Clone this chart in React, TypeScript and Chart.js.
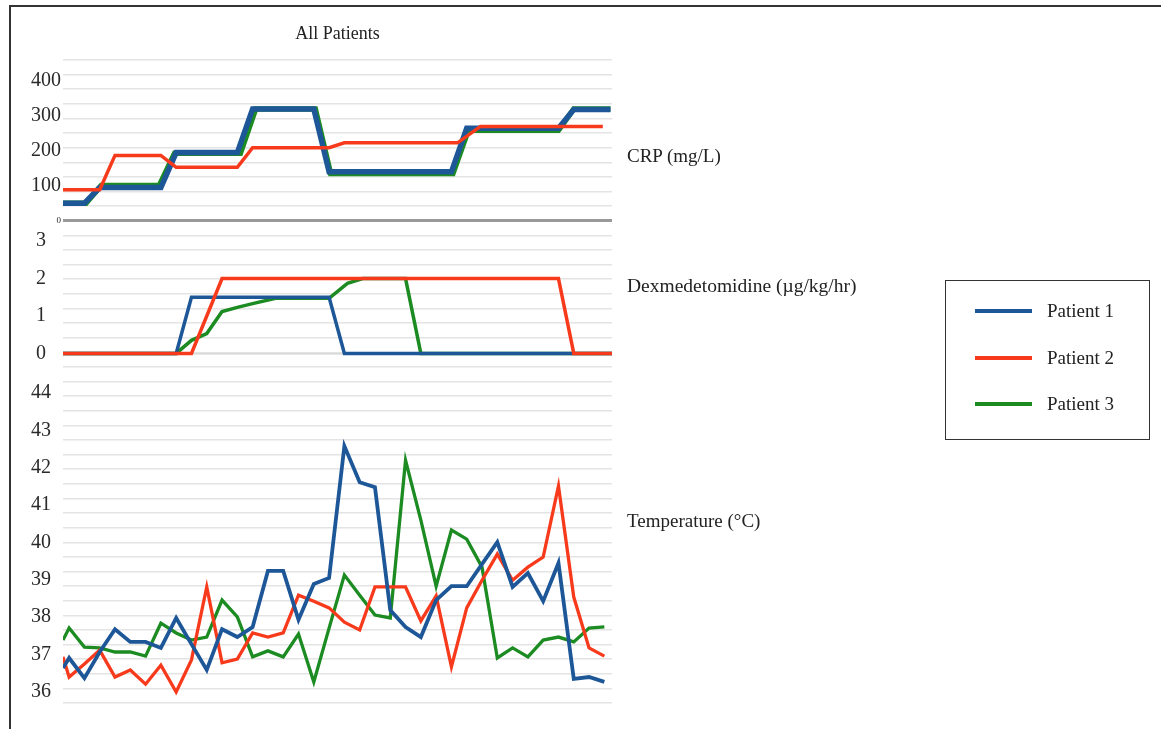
import React, { useEffect, useRef } from 'react';
import { Chart, registerables } from 'chart.js';

Chart.register(...registerables);

const FONT = "'Liberation Serif', 'Times New Roman', serif";
const BLUE = '#1d5798';
const RED = '#f83a1c';
const GREEN = '#1b8b22';
const GRID = '#e4e4e4';

const seriesNames = ['Patient 1', 'Patient 2', 'Patient 3'];
const panelTitles = ['CRP (mg/L)', 'Dexmedetomidine (µg/kg/hr)', 'Temperature (°C)'];

// CRP (mg/L)
const crpX1 = [-0.4, 1, 2, 6, 7, 11, 12, 16, 17, 25, 26, 32, 33, 35.4];
const crpP1 = [50, 50, 95, 95, 195, 195, 320, 320, 140, 140, 265, 265, 318, 318];
const crpX2 = [-0.4, 2, 3, 6, 7, 11, 12, 17, 18, 25.4, 26.9, 34.9];
const crpP2 = [89, 89, 187, 187, 153, 153, 209, 209, 223, 223, 270, 270];
const crpX3 = [-0.4, 1.1, 2.1, 5.9, 6.9, 11.2, 12.2, 16.1, 17.1, 25.1, 26.1, 32, 33, 35.4];
const crpP3 = [50, 50, 101, 101, 193, 193, 320, 320, 135, 135, 259, 259, 320, 320];

// Dexmedetomidine (µg/kg/hr)
const dexX1 = [-0.4, 7, 8, 17, 18, 35.5];
const dexP1 = [0, 0, 1.5, 1.5, 0, 0];
const dexX2 = [-0.4, 8, 10, 32, 33, 35.5];
const dexP2 = [0, 0, 2, 2, 0, 0];
const dexX3 = [-0.4, 7, 8, 9, 10, 11, 12, 13.5, 17, 18.2, 19.2, 22, 23, 35.5];
const dexP3 = [0, 0, 0.35, 0.53, 1.12, 1.23, 1.33, 1.47, 1.47, 1.87, 2, 2, 0, 0];

// Temperature (°C)
const tempX = [-0.4, 0, 1, 2, 3, 4, 5, 6, 7, 8, 9, 10, 11, 12, 13, 14, 15, 16, 17, 18, 19, 20, 21, 22, 23, 24, 25, 26, 27, 28, 29, 30, 31, 32, 33, 34, 35];
const tempP1 = [36.64, 36.91, 36.37, 37.07, 37.68, 37.34, 37.34, 37.18, 37.98, 37.28, 36.59, 37.68, 37.47, 37.74, 39.24, 39.24, 37.93, 38.89, 39.05, 42.58, 41.61, 41.48, 38.19, 37.74, 37.47, 38.46, 38.83, 38.83, 39.42, 40.01, 38.81, 39.18, 38.43, 39.45, 36.35, 36.40, 36.27];
const tempP2 = [36.94, 36.40, 36.75, 37.12, 36.40, 36.59, 36.21, 36.72, 36.00, 36.86, 38.81, 36.78, 36.88, 37.58, 37.47, 37.58, 38.59, 38.43, 38.25, 37.87, 37.66, 38.81, 38.81, 38.81, 37.90, 38.57, 36.67, 38.25, 38.99, 39.69, 38.99, 39.34, 39.61, 41.51, 38.54, 37.18, 36.96];
const tempP3 = [37.39, 37.71, 37.20, 37.18, 37.07, 37.07, 36.96, 37.84, 37.58, 37.39, 37.47, 38.46, 38.01, 36.94, 37.10, 36.94, 37.55, 36.27, 37.71, 39.13, 38.59, 38.06, 37.98, 42.20, 40.60, 38.83, 40.33, 40.09, 39.34, 36.91, 37.18, 36.94, 37.39, 37.47, 37.34, 37.71, 37.74];

// Axis tick labels
const crpTicks = [0, 100, 200, 300, 400];
const dexTicks = [0, 1, 2, 3];
const tempTicks = [36, 37, 38, 39, 40, 41, 42, 43, 44];

const pts = (xs: number[], ys: number[]) => xs.map((x, i) => ({ x, y: ys[i] }));

function panelAxis(opts: {
  min: number; max: number; nGrid: number; labels: number[]; weight: number;
  padding: number; zero?: { color: string; width: number }; smallZero?: boolean; skipTop?: boolean;
}) {
  const gridVals: number[] = [];
  const last = opts.skipTop ? opts.nGrid - 1 : opts.nGrid;
  for (let k = 0; k <= last; k++) gridVals.push(opts.min + ((opts.max - opts.min) * k) / opts.nGrid);
  const gridSet = new Set(gridVals);
  const labelSet = new Set(opts.labels);
  const all = Array.from(new Set([...gridVals, ...opts.labels])).sort((a, b) => a - b);
  return {
    type: 'linear' as const,
    position: 'left' as const,
    stack: 'panels',
    stackWeight: opts.nGrid,
    weight: opts.weight,
    min: opts.min,
    max: opts.max,
    afterBuildTicks: (scale: any) => {
      scale.ticks = all.map((v) => ({ value: v }));
    },
    afterFit: (scale: any) => {
      scale.width = 53;
      scale.paddingTop = 0;
      scale.paddingBottom = 0;
    },
    border: { display: false },
    grid: {
      drawTicks: false,
      color: (ctx: any) => {
        const v = ctx.tick ? ctx.tick.value : NaN;
        if (opts.zero && v === 0) return opts.zero.color;
        return gridSet.has(v) ? GRID : 'rgba(0,0,0,0)';
      },
      lineWidth: (ctx: any) => {
        const v = ctx.tick ? ctx.tick.value : NaN;
        if (opts.zero && v === 0) return opts.zero.width;
        return 1.5;
      },
    },
    ticks: {
      autoSkip: false,
      padding: opts.padding,
      color: '#2a2a2a',
      font: (ctx: any) =>
        opts.smallZero && ctx.tick && ctx.tick.value === 0
          ? { family: FONT, size: 9 }
          : { family: FONT, size: 20 },
      callback: (value: any) => (labelSet.has(value) ? String(value) : ''),
    },
  };
}

export default function App() {
  const ref = useRef<HTMLCanvasElement>(null);

  useEffect(() => {
    const line = (label: string, xs: number[], ys: number[], color: string, axis: string, width: number, order: number) => ({
      label,
      data: pts(xs, ys),
      yAxisID: axis,
      borderColor: color,
      backgroundColor: color,
      borderWidth: width,
      pointRadius: 0,
      pointHoverRadius: 0,
      tension: 0,
      fill: false,
      order,
    });

    const chart = new Chart(ref.current as HTMLCanvasElement, {
      type: 'line',
      data: {
        datasets: [
          line(seriesNames[1], crpX2, crpP2, RED, 'crp', 3.5, 0),
          line(seriesNames[0], crpX1, crpP1, BLUE, 'crp', 5.5, 1),
          line(seriesNames[2], crpX3, crpP3, GREEN, 'crp', 5.5, 2),
          line(seriesNames[1], dexX2, dexP2, RED, 'dex', 3.5, 0),
          line(seriesNames[0], dexX1, dexP1, BLUE, 'dex', 3.5, 1),
          line(seriesNames[2], dexX3, dexP3, GREEN, 'dex', 3.5, 2),
          line(seriesNames[0], tempX, tempP1, BLUE, 'temp', 3.8, 0),
          line(seriesNames[1], tempX, tempP2, RED, 'temp', 3.3, 1),
          line(seriesNames[2], tempX, tempP3, GREEN, 'temp', 3.3, 2),
        ],
      },
      options: {
        responsive: false,
        animation: false,
        devicePixelRatio: 1,
        layout: { padding: { left: 10, right: 549, top: 0, bottom: 26 } },
        plugins: {
          legend: { display: false },
          tooltip: { enabled: false },
          title: {
            display: true,
            text: 'All Patients',
            fullSize: false,
            color: '#222',
            font: { family: FONT, size: 18, weight: 'normal' },
            padding: { top: 23, bottom: 15.4 },
          },
        },
        scales: {
          x: { type: 'linear', min: -0.4, max: 35.5, display: false },
          crp: panelAxis({ min: 0, max: 460, nGrid: 11, labels: crpTicks, weight: 3, padding: 2, zero: { color: '#999999', width: 3 }, smallZero: true }),
          dex: panelAxis({ min: -0.75, max: 3.543, nGrid: 11, labels: dexTicks, weight: 2, padding: 17, zero: { color: '#cfcfcf', width: 2.5 }, skipTop: true }),
          temp: panelAxis({ min: 35.706, max: 44.306, nGrid: 22, labels: tempTicks, weight: 1, padding: 12, skipTop: true }),
        } as any,
      },
    });
    return () => chart.destroy();
  }, []);

  const textStyle: React.CSSProperties = {
    position: 'absolute',
    fontFamily: FONT,
    fontSize: 19,
    lineHeight: '19px',
    color: '#222',
    whiteSpace: 'nowrap',
  };
  const colors = [BLUE, RED, GREEN];
  const legendY = [311, 358, 404];

  return (
    <div style={{ position: 'fixed', left: 0, top: 0, width: 1161, height: 729, background: '#fff', overflow: 'hidden' }}>
      <div style={{ position: 'absolute', left: 9, top: 5, right: -10, bottom: -10, borderTop: '2px solid #333', borderLeft: '2px solid #333' }} />
      <canvas ref={ref} width={1161} height={729} style={{ position: 'absolute', left: 0, top: 0, width: 1161, height: 729 }} />
      <div style={{ ...textStyle, left: 627, top: 146 }}>{panelTitles[0]}</div>
      <div style={{ ...textStyle, left: 627, top: 276, fontSize: 19.5 }}>{panelTitles[1]}</div>
      <div style={{ ...textStyle, left: 627, top: 511 }}>{panelTitles[2]}</div>
      <div style={{ position: 'absolute', left: 945, top: 280, width: 203, height: 158, border: '1.5px solid #333' }} />
      {seriesNames.map((name, i) => (
        <React.Fragment key={name}>
          <div style={{ position: 'absolute', left: 975, top: legendY[i] - 2, width: 57, height: 4, background: colors[i] }} />
          <div style={{ ...textStyle, left: 1047, top: legendY[i] - 10 }}>{name}</div>
        </React.Fragment>
      ))}
    </div>
  );
}
